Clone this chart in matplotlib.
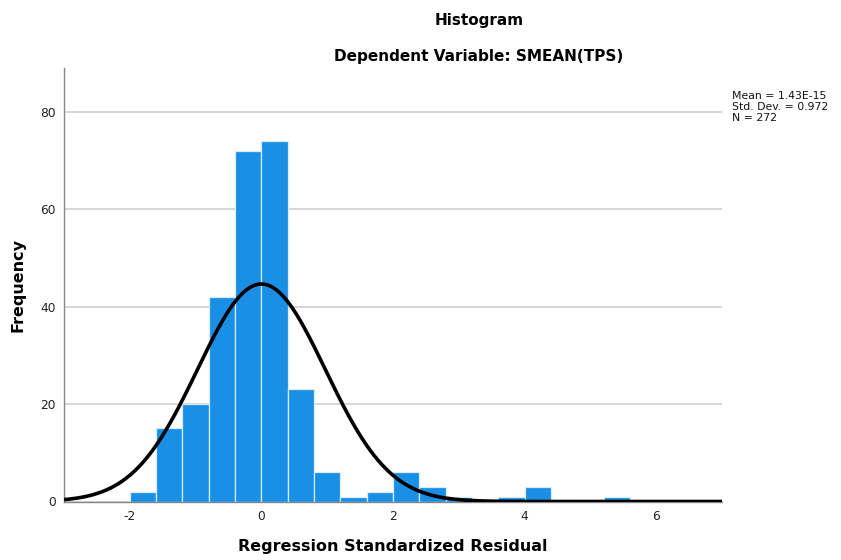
import numpy as np
import matplotlib
matplotlib.use("Agg")
import matplotlib.pyplot as plt

# Data
bin_left_edges = [-2.0, -1.6, -1.2, -0.8, -0.4, 0.0, 0.4, 0.8, 1.2, 1.6, 2.0, 2.4, 2.8, 3.2, 3.6, 4.0, 4.4, 4.8, 5.2]
counts = [2, 15, 20, 42, 72, 74, 23, 6, 1, 2, 6, 3, 1, 0, 1, 3, 0, 0, 1]
bin_width = 0.4
mean_val = 1.43e-15
std_val = 0.972
n_val = 272
x_ticks = [-2, 0, 2, 4, 6]
y_ticks = [0, 20, 40, 60, 80]

plt.rcParams['font.family'] = ['DejaVu Sans']
plt.rcParams['axes.unicode_minus'] = False

fig = plt.figure(figsize=(8.41, 5.60), dpi=100)
ax = fig.add_axes([64/841, 1-501.5/560, (722-64)/841, (501.5-68)/560])

ax.bar(bin_left_edges, counts, width=bin_width, align='edge',
       color='#1a8fe6', edgecolor='#d8ecfb', linewidth=0.9, zorder=2)

xs = np.linspace(-3, 7, 500)
pdf = n_val * bin_width / (std_val * np.sqrt(2 * np.pi)) * np.exp(-0.5 * ((xs - mean_val) / std_val) ** 2)
ax.plot(xs, pdf, color='black', linewidth=2.6, zorder=3, solid_capstyle='butt')

ax.set_xlim(-3, 7)
ax.set_ylim(0, 89)
ax.set_xticks(x_ticks)
ax.set_yticks(y_ticks)
ax.tick_params(length=0, labelsize=8.8, colors='#222222', pad=6)
ax.yaxis.grid(True, color='#d6d6d6', linewidth=1.4, zorder=0)
ax.set_axisbelow(True)
for s in ['top', 'right']:
    ax.spines[s].set_visible(False)
for s in ['left', 'bottom']:
    ax.spines[s].set_color('#888888')
    ax.spines[s].set_linewidth(1.0)

ax.set_xlabel('Regression Standardized Residual', fontsize=11.5, fontweight='bold')
ax.xaxis.set_label_coords(0.5, (501.5-547)/433.5)
ax.xaxis.label.set_va('center')
ax.set_ylabel('Frequency', fontsize=11.5, fontweight='bold')
ax.yaxis.set_label_coords((18-64)/658, 0.5)
ax.yaxis.label.set_va('center')

fig.text(479/841, 1-20/560, 'Histogram', ha='center', va='center', fontsize=11, fontweight='bold')
fig.text(479/841, 1-56/560, 'Dependent Variable: SMEAN(TPS)', ha='center', va='center', fontsize=11, fontweight='bold')

stats = f"Mean = 1.43E-15\nStd. Dev. = {std_val}\nN = {n_val}"
fig.text(732/841, 1-91/560, stats, ha='left', va='top', fontsize=7.8, linespacing=1.15, color='#111111')

fig.savefig('out.png', dpi=100)
